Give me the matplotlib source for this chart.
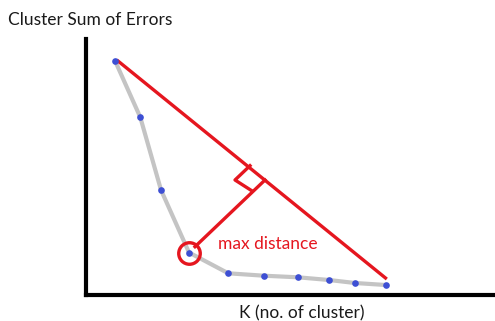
import matplotlib
matplotlib.use("Agg")
import matplotlib.pyplot as plt

# Elbow curve points (in pixel-like units from the axes origin)
k_pos = [29.5, 54.8, 75.5, 103.5, 142.8, 178.2, 212.5, 243.5, 269.5, 300.2]
sse = [233.8, 177.2, 104.5, 42.0, 21.2, 18.8, 17.2, 14.5, 11.5, 9.5]
elbow_idx = 3

# Red chord from first to last point
chord_x = [32.5, 300.0]
chord_y = [233.5, 16.5]
# Distance segment from elbow to chord
perp_x = [109.5, 179.5]
perp_y = [47.8, 114.5]
# Right-angle marker
ra_x = [164.5, 149.5, 166.2]
ra_y = [128.8, 114.5, 103.8]

W, H = 495, 321
fig = plt.figure(figsize=(W / 100, H / 100), dpi=100)
ox, oy = 85.5, 294.5
top = 39.3
ax = fig.add_axes([ox / W, (H - oy) / H, (W - ox) / W, (oy - top) / H])
ax.set_xlim(0, W - ox)
ax.set_ylim(0, oy - top)
ax.set_xticks([])
ax.set_yticks([])
for s in ["top", "right"]:
    ax.spines[s].set_visible(False)
for s in ["left", "bottom"]:
    ax.spines[s].set_linewidth(3.0)
    ax.spines[s].set_color("black")

red = "#e5161f"
ax.plot(k_pos, sse, color="#c4c4c4", lw=3.0, solid_capstyle="butt", zorder=2, clip_on=False)
ax.plot(chord_x, chord_y, color=red, lw=2.4, zorder=3, clip_on=False)
ax.plot(perp_x, perp_y, color=red, lw=2.4, zorder=3, clip_on=False)
ax.plot(ra_x, ra_y, color=red, lw=2.4, zorder=3, clip_on=False)
ax.plot(k_pos, sse, 'o', color="#3d4fd4", ms=4.8, mew=0, zorder=4, clip_on=False)
ax.plot([k_pos[elbow_idx]], [sse[elbow_idx]], 'o', mfc="none", mec=red,
        ms=15.5, mew=2.4, zorder=5, clip_on=False)

font = "Lato"
fs = 12.5
fig.text(8 / W, 1 - 20 / H, "Cluster Sum of Errors", family=font, fontsize=fs,
         color="#1a1a1a", ha="left", va="center")
fig.text(239 / W, 1 - 313 / H, "K (no. of cluster)", family=font, fontsize=fs,
         color="#1a1a1a", ha="left", va="center")
fig.text(218 / W, 1 - 244 / H, "max distance", family=font, fontsize=fs,
         color=red, ha="left", va="center")

fig.savefig("out.png", dpi=100)
